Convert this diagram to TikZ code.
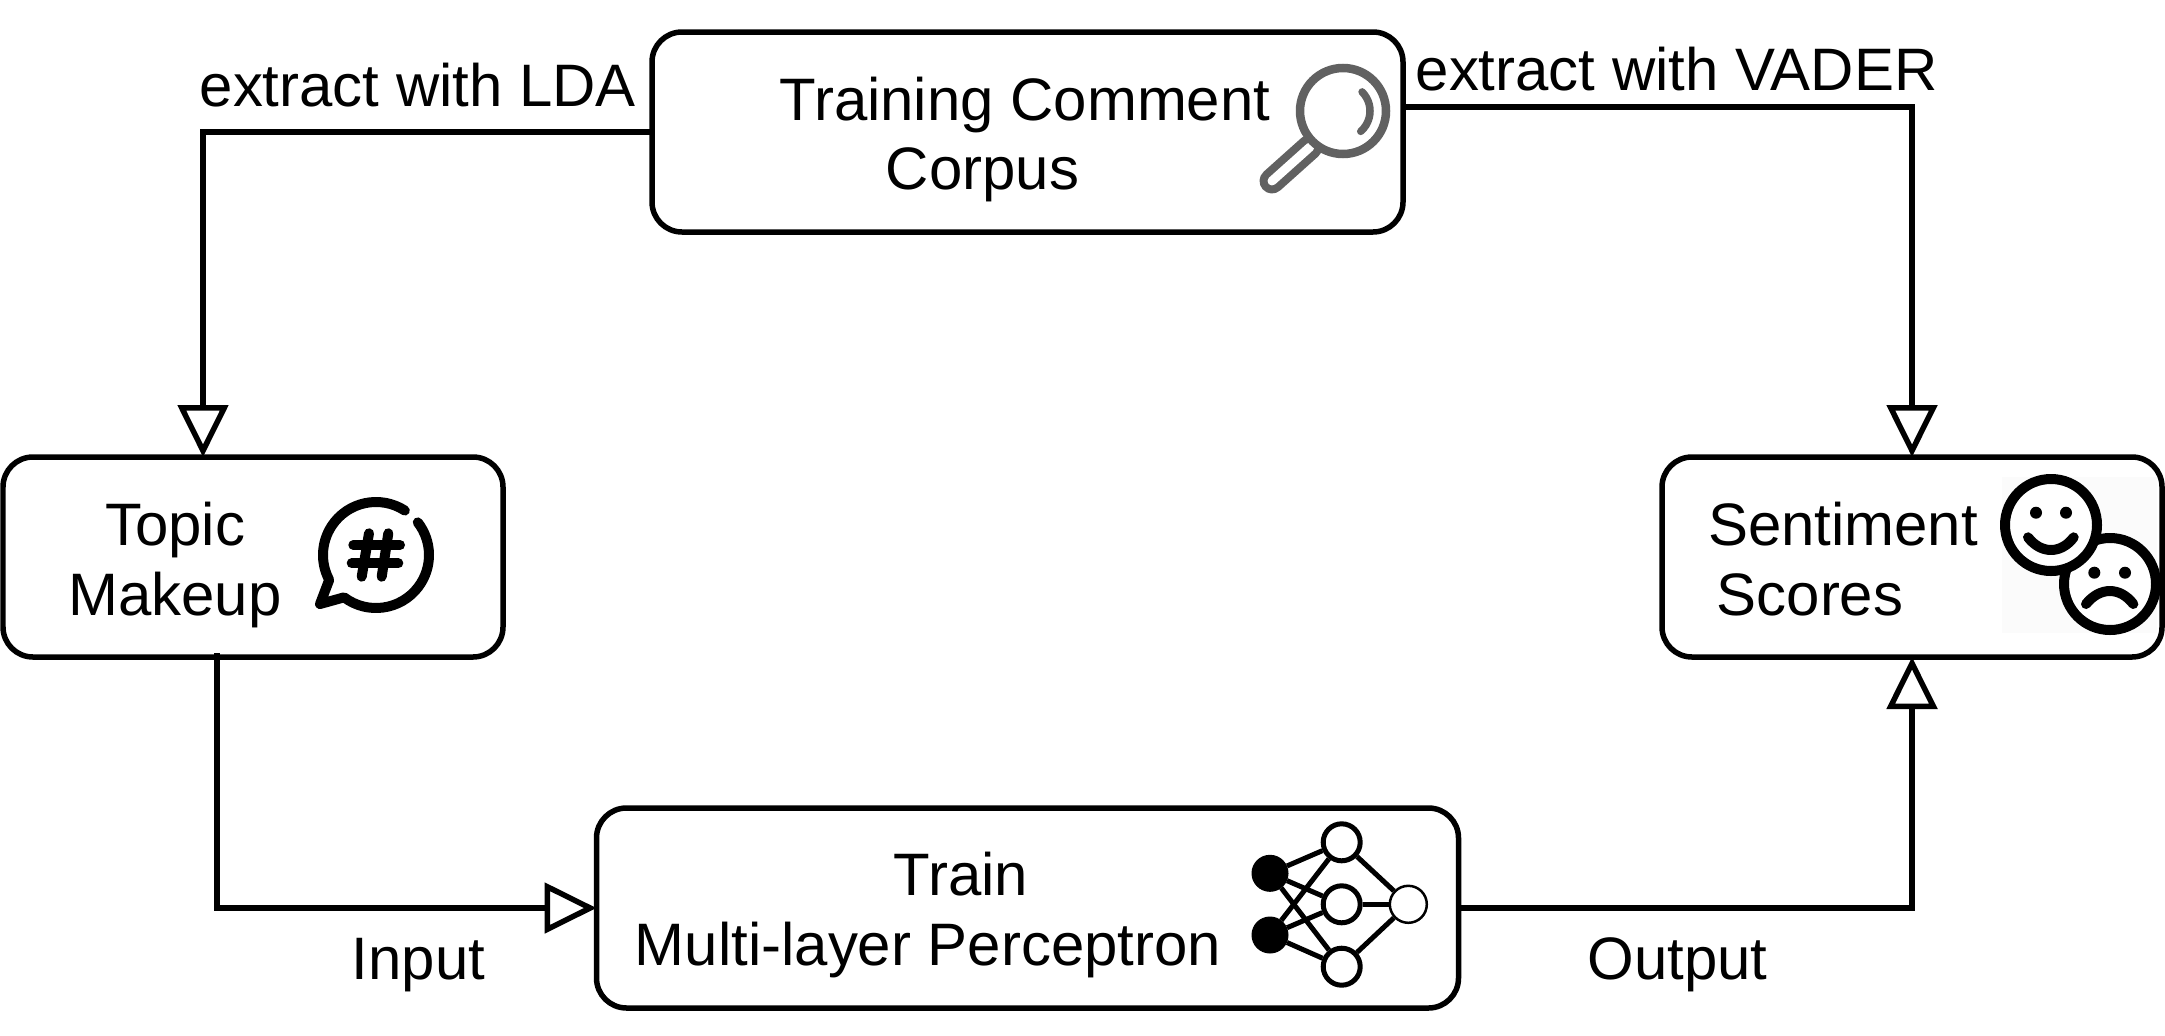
\documentclass[tikz,border=0pt]{standalone}
\usepackage{fontspec}
\setmainfont{Liberation Sans}
\usetikzlibrary{arrows.meta,positioning}
\definecolor{icongrey}{HTML}{616161}
\definecolor{iconback}{HTML}{FBFBFB}
\tikzset{
  box/.style={draw=black,line width=0.055cm,rounded corners=0.3cm,fill=white,
              minimum height=2cm,outer sep=0pt,inner sep=0pt},
  flow/.style={-{Triangle[length=0.52cm,width=0.5cm,fill=white]},line width=0.055cm,draw=black},
  lbl/.style={font=\fontsize{17.05pt}{19.9pt}\selectfont,align=center,inner sep=0pt},
  flowlbl/.style={font=\fontsize{17.05pt}{19.9pt}\selectfont,inner sep=0pt,anchor=base west},
  unit/.style={draw=black,line width=0.05cm,circle,fill=white,inner sep=0pt,minimum size=0.37cm},
  inunit/.style={unit,fill=black,line width=0.01cm,minimum size=0.36cm},
  outunit/.style={unit,line width=0.025cm},
  iconline/.style={line width=0.1cm,line cap=round,line join=round},
}
\begin{document}
\begin{tikzpicture}
  \useasboundingbox (0,0) rectangle (21.65,10.35);

  \node[box,minimum width=7.51cm] (corpus) at (10.275,9.03) {};
  \node[box,minimum width=8.62cm,below=5.76cm of corpus] (mlp) {};
  \node[box,minimum width=5cm] (topic) at (2.53,4.78) {};
  \node[box,minimum width=5cm,right=11.59cm of topic] (sentiment) {};

  \node[lbl] (corpuslbl) at (10.25,8.955) {Training Comment\\Corpus\hspace*{0.85cm}\mbox{}};
  \node[lbl] (topiclbl) at (1.75,4.70) {Topic\\Makeup};
  \node[lbl] (sentimentlbl) at (18.43,4.76) {Sentiment\\Scores\hspace*{0.66cm}\mbox{}};
  \node[lbl] (mlplbl) at (9.28,1.20) {\hspace*{0.66cm}Train\\Multi-layer Perceptron};

  % connectors between the boxes
  \coordinate (topicin) at (2.03,5.78);
  \coordinate (corpusout) at (14.03,9.28);
  \coordinate (topicout) at (2.17,3.82);
  \draw[flow] (corpus.west) -| (topicin);
  \draw[flow] (corpusout) -| (sentiment.north);
  \draw[flow] (topicout) |- (mlp.west);
  \draw[flow] (mlp.east) -| (sentiment.south);

  \node[flowlbl] (ldalbl) at (1.99,9.29) {extract with LDA};
  \node[flowlbl] (vaderlbl) at (14.15,9.45) {extract with VADER};
  \node[flowlbl] (inputlbl) at (3.51,0.56) {Input};
  \node[flowlbl] (outputlbl) at (15.87,0.56) {Output};

  % magnifier
  \begin{scope}[shift={(13.43,9.24)},icongrey]
    \draw[line width=0.25cm,line cap=round] (-0.33,-0.36) -- (-0.71,-0.70);
    \draw[line width=0.09cm,white,line cap=round] (-0.33,-0.36) -- (-0.71,-0.70);
    \draw[line width=0.085cm,fill=white] (0,0) circle (0.43);
    \draw[line width=0.075cm,line cap=round] (45:0.27) arc[start angle=45,end angle=-49,radius=0.27];
  \end{scope}

  % hash bubble
  \begin{scope}[shift={(3.76,4.80)}]
    \draw[iconline] (57:0.53) arc[start angle=57,end angle=208,radius=0.53]
      -- (-0.56,-0.49) -- (233:0.53) arc[start angle=233,end angle=398,radius=0.53];
    \draw[iconline] (-0.227,0.10) -- (0.24,0.10);
    \draw[iconline] (-0.243,-0.083) -- (0.223,-0.083);
    \draw[iconline] (-0.07,0.217) -- (-0.143,-0.217);
    \draw[iconline] (0.123,0.217) -- (0.057,-0.217);
  \end{scope}

  % sentiment faces
  \fill[iconback] (20.02,5.58) rectangle (21.57,4.02);
  \begin{scope}[shift={(21.10,4.51)}]
    \draw[line width=0.1cm,fill=white] (0,0) circle (0.46);
    \fill (-0.157,0.113) circle (0.06);
    \fill (0.15,0.113) circle (0.06);
    \draw[iconline] (-0.24,-0.2) .. controls (-0.1,-0.027) and (0.1,-0.027) .. (0.233,-0.2);
  \end{scope}
  \begin{scope}[shift={(20.51,5.10)}]
    \draw[line width=0.1cm,fill=white] (0,0) circle (0.46);
    \fill (-0.15,0.123) circle (0.06);
    \fill (0.15,0.123) circle (0.06);
    \draw[iconline] (-0.23,-0.123) .. controls (-0.1,-0.292) and (0.1,-0.292) .. (0.227,-0.123);
  \end{scope}

  % perceptron
  \foreach \name/\ypos in {ina/1.617,inb/1.00}
    \node[inunit] (\name) at (12.70,\ypos) {};
  \foreach \name/\ypos in {hida/1.927,hidb/1.307,hidc/0.683}
    \node[unit] (\name) at (13.417,\ypos) {};
  \node[outunit] (out) at (14.083,1.307) {};
  \foreach \from in {ina,inb}
    \foreach \to in {hida,hidb,hidc}
      \draw[line width=0.05cm] (\from) -- (\to);
  \foreach \from in {hida,hidb,hidc}
    \draw[line width=0.05cm] (\from) -- (out);
\end{tikzpicture}
\end{document}
